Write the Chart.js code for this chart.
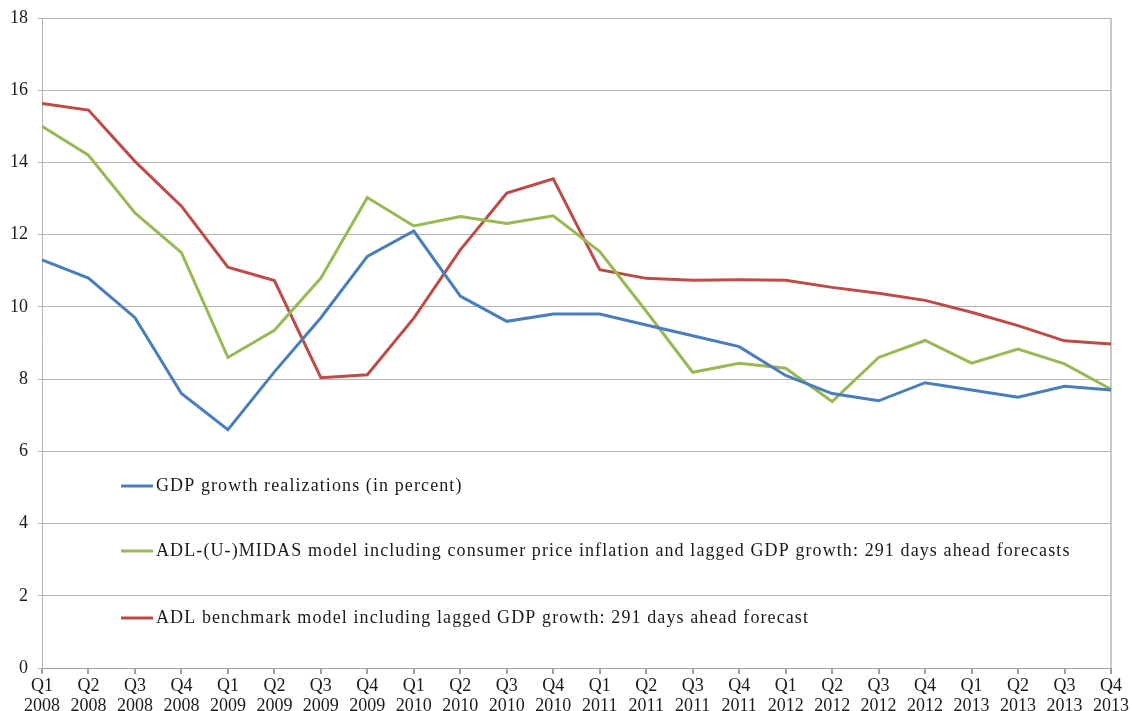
<!DOCTYPE html>
<html>
<head>
<meta charset="utf-8">
<script src="https://cdn.jsdelivr.net/npm/chart.js@4/dist/chart.umd.min.js"></script>
<style>
  html, body { margin: 0; padding: 0; background: #fff; }
  #wrap { width: 1132px; height: 711px; }
</style>
</head>
<body>
<div id="wrap"><canvas id="gdpChart" width="1132" height="711"></canvas></div>
<script>
const quarters = ["Q1", "Q2", "Q3", "Q4"];
const years = [2008, 2009, 2010, 2011, 2012, 2013];
const labels = years.flatMap(y => quarters.map(q => [q, String(y)]));

const gdpActual = [11.3, 10.8, 9.7, 7.6, 6.6, 8.2, 9.7, 11.4, 12.1, 10.3, 9.6, 9.8,
  9.8, 9.5, 9.2, 8.9, 8.1, 7.6, 7.4, 7.9, 7.7, 7.5, 7.8, 7.7];
const midasForecast = [15.0, 14.2, 12.6, 11.5, 8.6, 9.35, 10.8, 13.03, 12.24, 12.5, 12.31, 12.52,
  11.53, 9.88, 8.19, 8.44, 8.3, 7.38, 8.6, 9.07, 8.44, 8.83, 8.42, 7.72];
const adlForecast = [15.63, 15.45, 14.03, 12.79, 11.1, 10.73, 8.04, 8.12, 9.69, 11.58, 13.15, 13.55,
  11.03, 10.79, 10.74, 10.75, 10.74, 10.54, 10.38, 10.18, 9.85, 9.48, 9.06, 8.97];

const seriesNames = [
  "GDP growth realizations (in percent)",
  "ADL-(U-)MIDAS model including consumer price inflation and lagged GDP growth: 291 days ahead forecasts",
  "ADL benchmark model including lagged GDP growth: 291 days ahead forecast"
];

const FONT = "'Liberation Serif', 'DejaVu Serif', serif";

// legend sits inside the plot, lower left
const insideLegend = {
  id: "insideLegend",
  afterDatasetsDraw(chart) {
    const { ctx, chartArea } = chart;
    const rows = [486, 551, 618];
    ctx.save();
    ctx.font = "18px " + FONT;
    ctx.letterSpacing = "1.1px";
    ctx.textBaseline = "middle";
    chart.data.datasets.forEach((ds, i) => {
      const y = rows[i];
      const x0 = chartArea.left + 79;
      ctx.strokeStyle = ds.borderColor;
      ctx.lineWidth = 3;
      ctx.beginPath();
      ctx.moveTo(x0, y);
      ctx.lineTo(x0 + 32, y);
      ctx.stroke();
      ctx.fillStyle = "#1a1a1a";
      ctx.fillText(ds.label, x0 + 35, y);
    });
    ctx.letterSpacing = "0px";
    ctx.restore();
  }
};

new Chart(document.getElementById("gdpChart"), {
  type: "line",
  data: {
    labels,
    datasets: [
      { label: seriesNames[0], data: gdpActual, borderColor: "#4a7ebb" },
      { label: seriesNames[1], data: midasForecast, borderColor: "#98b954" },
      { label: seriesNames[2], data: adlForecast, borderColor: "#be4b48" }
    ].map(d => ({ ...d, borderWidth: 3, pointRadius: 0, tension: 0, fill: false }))
  },
  options: {
    responsive: false,
    animation: false,
    layout: { padding: { top: 18, right: 21, left: 0, bottom: 0 } },
    plugins: { legend: { display: false }, tooltip: { enabled: false } },
    scales: {
      x: {
        offset: false,
        grid: {
          color: c => (c.index === labels.length - 1 ? "#c8c8c8" : "rgba(0,0,0,0)"),
          lineWidth: 2,
          tickColor: "#a0a0a0",
          tickLength: 6,
          drawOnChartArea: true
        },
        border: { color: "#a0a0a0", width: 1 },
        ticks: {
          autoSkip: false,
          maxRotation: 0,
          padding: 2,
          color: "#1a1a1a",
          font: { family: FONT, size: 18, lineHeight: 1.12 }
        },
        afterFit(scale) { scale.height = 43; scale.paddingLeft = 0; scale.paddingRight = 0; }
      },
      y: {
        min: 0,
        max: 18,
        ticks: {
          stepSize: 2,
          padding: 10,
          color: "#1a1a1a",
          font: { family: FONT, size: 18 }
        },
        grid: { color: "#b4b4b4", lineWidth: 1, tickLength: 4, tickColor: "#b4b4b4" },
        border: { color: "#b4b4b4", width: 1 },
        afterFit(scale) { scale.width = 42; scale.paddingTop = 0; scale.paddingBottom = 0; }
      }
    }
  },
  plugins: [insideLegend]
});
</script>
</body>
</html>
